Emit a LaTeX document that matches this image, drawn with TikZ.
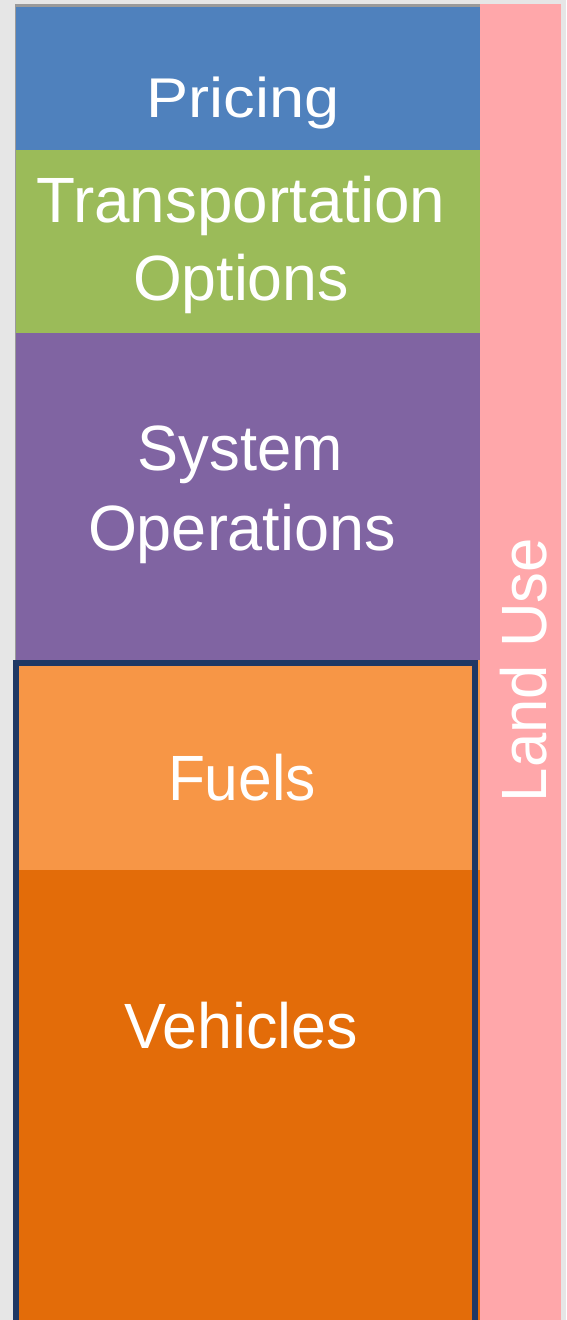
\documentclass[tikz,border=0pt]{standalone}
\usepackage{fontspec}
\setmainfont{Liberation Sans}
\usepackage{graphicx}
\definecolor{bgc}{HTML}{E6E6E6}
\definecolor{shadowc}{HTML}{9A9A9A}
\definecolor{pricec}{HTML}{4F81BD}
\definecolor{transc}{HTML}{9BBB59}
\definecolor{sysc}{HTML}{8064A2}
\definecolor{fuelc}{HTML}{F79646}
\definecolor{vehc}{HTML}{E36C09}
\definecolor{landc}{HTML}{FFA7AA}
\definecolor{navyc}{HTML}{1F3864}
\tikzset{
  lbl/.style={text=white, inner sep=0pt, anchor=base, font=\fontsize{64}{64}\selectfont},
  blk/.style={draw=none}
}
\newcommand{\fitw}[2]{\resizebox{#1}{\height}{#2}}
\begin{document}
\begin{tikzpicture}[x=1pt,y=-1pt]
\useasboundingbox (0,0) rectangle (566,1320);
\fill[bgc] (0,0) rectangle (566,1320);
% gray edge around upper stack
\fill[shadowc] (15,4) rectangle (480,660);
% blocks
\fill[pricec] (16,7) rectangle (480,150);
\fill[transc] (16,150) rectangle (480,333);
\fill[sysc] (16,333) rectangle (480,660);
\fill[fuelc] (16,660) rectangle (480,870);
\fill[vehc] (16,870) rectangle (480,1320);
% land use column
\fill[landc] (480,4) rectangle (561,1320);
% navy frame
\draw[navyc, line width=6pt] (16,663) rectangle (475,1326);
% labels
\node[lbl, font=\fontsize{56}{56}\selectfont] (pricing) at (243,117) {\fitw{193pt}{Pricing}};
\node[lbl] (trans) at (241,222) {\fitw{409pt}{Transportation}};
\node[lbl] (opts) at (241,300) {\fitw{216pt}{Options}};
\node[lbl] (sys) at (240,470) {\fitw{205pt}{System}};
\node[lbl] (oper) at (242,550) {\fitw{308pt}{Operations}};
\node[lbl] (fuels) at (242,800) {\fitw{148pt}{Fuels}};
\node[lbl] (veh) at (241,1048) {\fitw{234pt}{Vehicles}};
\node[lbl, rotate=90] (land) at (546,670) {\fitw{264pt}{Land Use}};
\end{tikzpicture}
\end{document}
